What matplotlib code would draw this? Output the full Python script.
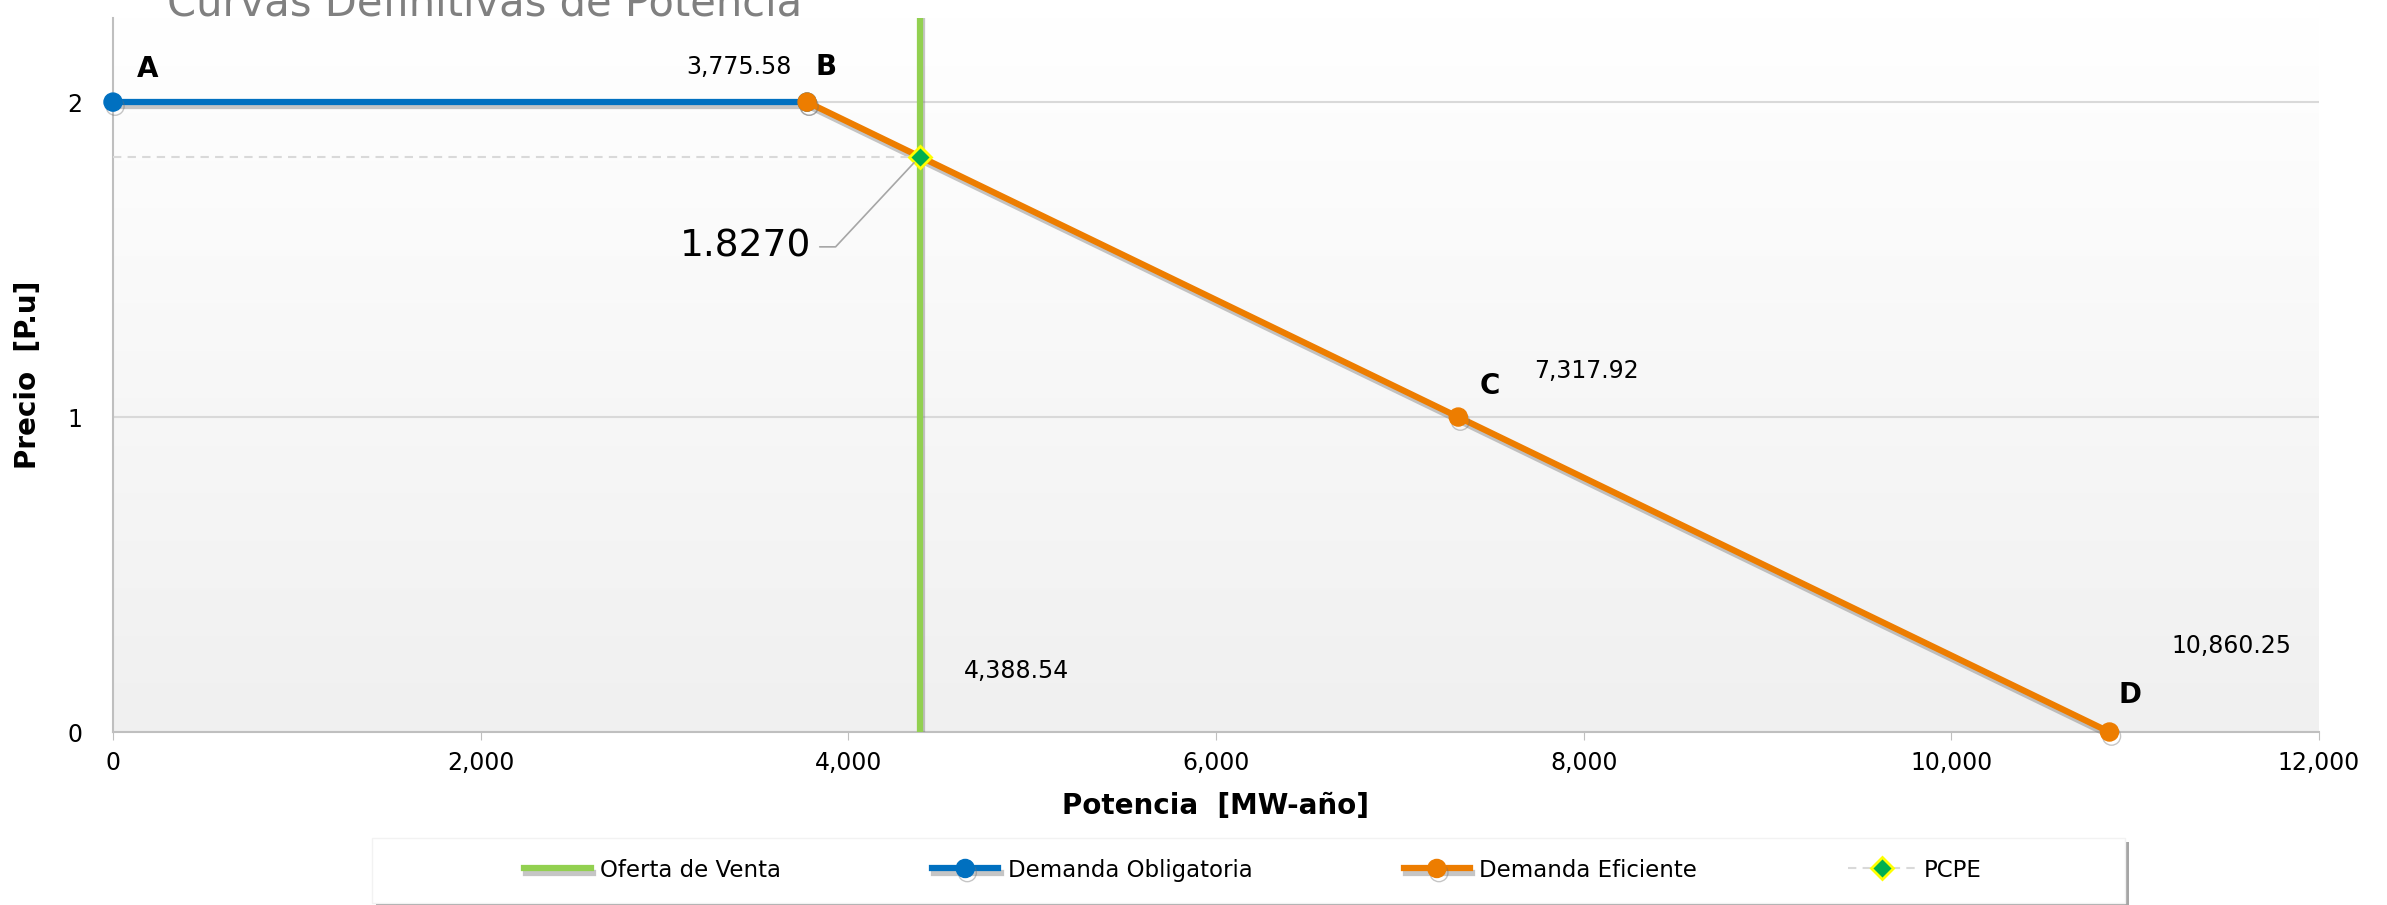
import numpy as np
import matplotlib
matplotlib.use("Agg")
import matplotlib.pyplot as plt
import matplotlib.patheffects as pe
from matplotlib.patches import Rectangle
from matplotlib.ticker import FuncFormatter

# datos
oferta_x = [4388.54, 4388.54]
oferta_y = [0, 2.3]
oblig_x = [0, 3775.58]
oblig_y = [2, 2]
efic_x = [3775.58, 7317.92, 10860.25]
efic_y = [2, 1, 0]
pcpe_x = [0, 4388.54]
pcpe_y = [1.8270, 1.8270]
puntos = ["A", "B", "C", "D"]
puntos_x = [0, 3775.58, 7317.92, 10860.25]
puntos_y = [2, 2, 1, 0]
xticks = [0, 2000, 4000, 6000, 8000, 10000, 12000]
yticks = [0, 1, 2]

W, H = 2387, 905
fig = plt.figure(figsize=(W / 100, H / 100), dpi=100)
ax = fig.add_axes([113 / W, 1 - 732 / H, (2319 - 113) / W, (732 - 18) / H])
ax.set_xlim(0, 12000)
ax.set_ylim(0, 2.267)

# fondo degradado del area de trazado
grad = np.linspace(1, 0, 256).reshape(-1, 1)
ax.imshow(grad, extent=[0, 1, 0, 1], transform=ax.transAxes, aspect="auto",
          cmap=matplotlib.colors.LinearSegmentedColormap.from_list("g", ["#f0f0f0", "#ffffff"]),
          zorder=0)

ax.set_xticks(xticks)
ax.set_yticks(yticks)
ax.xaxis.set_major_formatter(FuncFormatter(lambda v, p: f"{v:,.0f}"))
ax.grid(axis="y", color="#d9d9d9", lw=1.5, zorder=1)
ax.tick_params(axis="x", length=6, color="#bfbfbf", labelsize=17, pad=8)
ax.tick_params(axis="y", length=0, labelsize=17, pad=22)
for s in ["top", "right"]:
    ax.spines[s].set_visible(False)
for s in ["left", "bottom"]:
    ax.spines[s].set_color("#bfbfbf")
    ax.spines[s].set_linewidth(1.5)

sombra = [pe.SimpleLineShadow(offset=(1.5, -3), shadow_color="#707070", alpha=0.4),
          pe.Normal()]

ax.plot(oferta_x, oferta_y, color="#92d050", lw=4.5, label="Oferta de Venta",
        path_effects=sombra, zorder=3)
ax.plot(oblig_x, oblig_y, color="#0070c0", lw=4.5, marker="o", ms=13,
        label="Demanda Obligatoria", path_effects=sombra, zorder=4, clip_on=False)
ax.plot(efic_x, efic_y, color="#ed7d00", lw=4.5, marker="o", ms=13,
        label="Demanda Eficiente", path_effects=sombra, zorder=5, clip_on=False)
ax.plot(pcpe_x, pcpe_y, color="#d9d9d9", lw=1.5, ls=(0, (4, 3)), marker="D", ms=11,
        markevery=[1], mfc="#00b050", mec="#ffff00", mew=2, label="PCPE", zorder=6)

# letras de los puntos
letra_off = [(25, 24), (14, 25), (23, 22), (15, 27)]
for t, x, y, off in zip(puntos, puntos_x, puntos_y, letra_off):
    ax.annotate(t, (x, y), xytext=off, textcoords="offset points", ha="center",
                va="center", fontsize=20, fontweight="bold", zorder=7)

# etiquetas de valores
etq = [(oblig_x[1], oblig_y[1], (-49, 25)),
       (efic_x[1], efic_y[1], (92, 33)),
       (efic_x[2], efic_y[2], (88, 62)),
       (oferta_x[0], oferta_y[0], (70, 44))]
for x, y, off in etq:
    ax.annotate(f"{x:,.2f}", (x, y), xytext=off, textcoords="offset points",
                ha="center", va="center", fontsize=17, zorder=7)

ax.annotate(f"{pcpe_y[1]:.4f}", (pcpe_x[1], pcpe_y[1]), xytext=(-78, -65),
            textcoords="offset points", ha="right", va="center", fontsize=27,
            arrowprops=dict(arrowstyle="-", color="#a6a6a6", lw=1.2, relpos=(1, 0.5),
                            shrinkA=4, shrinkB=6,
                            connectionstyle="angle,angleA=0,angleB=47,rad=0"),
            zorder=7)

ax.set_xlabel("Potencia  [MW-año]", fontsize=20, fontweight="bold", labelpad=12)
ax.set_ylabel("Precio  [P.u]", fontsize=20, fontweight="bold", labelpad=18)

fig.text(167 / W, 1 - 15 / H, "Curvas Definitivas de Potencia", fontsize=30,
         color="#808080", va="baseline", ha="left")

# caja de la leyenda con sombra
fig.patches.append(Rectangle((376 / W, 1 - 907 / H), (2125 - 372) / W, 65 / H,
                             transform=fig.transFigure, facecolor="#a6a6a6",
                             edgecolor="none", zorder=0))
fig.patches.append(Rectangle((372 / W, 1 - 903 / H), (2125 - 372) / W, 65 / H,
                             transform=fig.transFigure, facecolor="white",
                             edgecolor="#f2f2f2", lw=1, zorder=0))

leg = fig.legend(loc="center", bbox_to_anchor=(1253 / W, 1 - 870 / H), ncol=4,
                 fontsize=16.5, frameon=False, handlelength=2.9, handletextpad=0.4,
                 columnspacing=6.6)

fig.savefig("out.png", dpi=100)
